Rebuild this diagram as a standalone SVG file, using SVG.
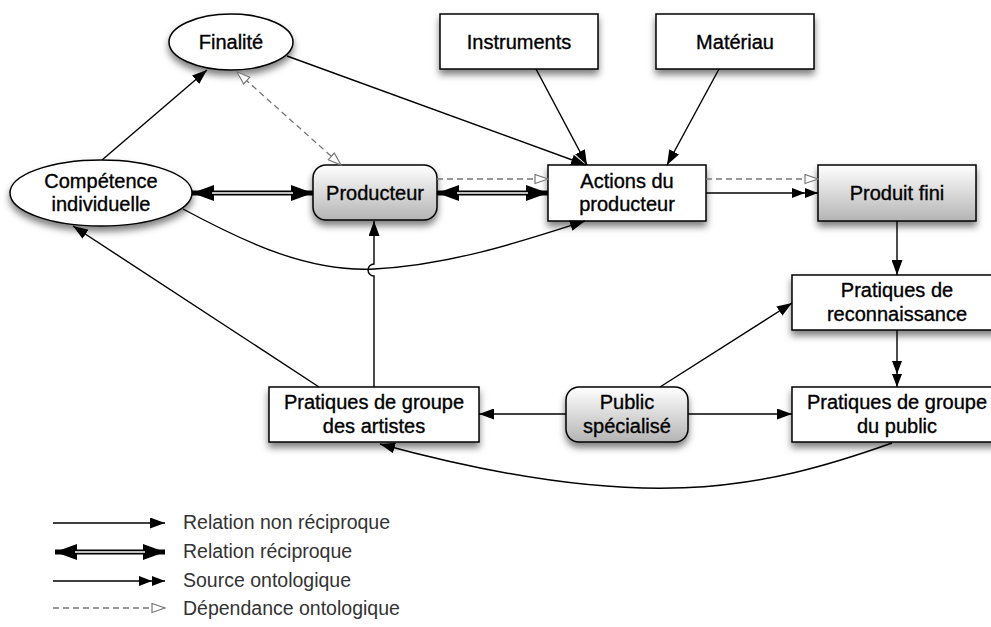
<svg xmlns="http://www.w3.org/2000/svg" width="991" height="627" viewBox="0 0 991 627">
<style>
.n{fill:#fff;stroke:#000;stroke-width:1.5}
.g{fill:url(#grad);stroke:#000;stroke-width:1.5}
.t{font-family:"Liberation Sans",Arial,sans-serif;font-size:20px;fill:#000;stroke:#000;stroke-width:0.35;text-anchor:middle}
.lt{font-family:"Liberation Sans",Arial,sans-serif;font-size:19.5px;fill:#333}
.c{fill:none;stroke:#000;stroke-width:1.4}
.d{fill:none;stroke:#777;stroke-width:1.3;stroke-dasharray:6 4}
.dbl{fill:none;stroke:#000;stroke-width:5}
.w{fill:none;stroke:#fff;stroke-width:1.6}
</style>
<defs>
<linearGradient id="grad" x1="0" y1="0" x2="0" y2="1">
<stop offset="0" stop-color="#ffffff"/>
<stop offset="1" stop-color="#b4b4b4"/>
</linearGradient>
<filter id="sh" x="-20%" y="-30%" width="140%" height="170%">
<feDropShadow dx="0" dy="5" stdDeviation="3.5" flood-color="#000" flood-opacity="0.5"/>
</filter>
<marker id="a" viewBox="0 0 15 11" refX="15" refY="5.5" markerWidth="15" markerHeight="11" markerUnits="userSpaceOnUse" orient="auto">
<path d="M0,0 L15,5.5 L0,11 z" fill="#000"/>
</marker>
<marker id="a2" viewBox="0 0 26 10" refX="26" refY="5" markerWidth="26" markerHeight="10" markerUnits="userSpaceOnUse" orient="auto">
<path d="M0,0 L13,5 L0,10 z M13,0 L26,5 L13,10 z" fill="#000"/>
</marker>
<marker id="h" viewBox="0 0 15 11" refX="14" refY="5.5" markerWidth="15" markerHeight="11" markerUnits="userSpaceOnUse" orient="auto-start-reverse">
<path d="M1,1 L14,5.5 L1,10 z" fill="#fff" stroke="#777" stroke-width="1.2"/>
</marker>
<marker id="r" viewBox="0 0 22 16" refX="22" refY="8" markerWidth="22" markerHeight="16" markerUnits="userSpaceOnUse" orient="auto-start-reverse">
<path d="M0,0 L22,8 L0,16 z" fill="#000"/>
</marker>
</defs>
<rect width="991" height="627" fill="#fff"/>

<g id="nodes">
<g id="finalite" filter="url(#sh)"><ellipse class="n" cx="231" cy="42" rx="62" ry="28"/></g>
<text class="t" x="231" y="49">Finalité</text>
<g id="competence" filter="url(#sh)"><ellipse class="n" cx="101" cy="193" rx="91" ry="33"/></g>
<text class="t" x="101" y="188">Compétence</text><text class="t" x="101" y="211">individuelle</text>
<g id="producteur" filter="url(#sh)"><rect class="g" x="313" y="165" width="124" height="55" rx="13"/></g>
<text class="t" x="375" y="200">Producteur</text>
<g id="instruments" filter="url(#sh)"><rect class="n" x="440" y="14" width="158" height="55"/></g>
<text class="t" x="519" y="49">Instruments</text>
<g id="materiau" filter="url(#sh)"><rect class="n" x="656" y="14" width="158" height="55"/></g>
<text class="t" x="735" y="49">Matériau</text>
<g id="actions" filter="url(#sh)"><rect class="n" x="548" y="165" width="158" height="56"/></g>
<text class="t" x="627" y="188">Actions du</text><text class="t" x="627" y="211">producteur</text>
<g id="produit" filter="url(#sh)"><rect class="g" x="818" y="165" width="158" height="56"/></g>
<text class="t" x="897" y="200">Produit fini</text>
<g id="reconnaissance" filter="url(#sh)"><rect class="n" x="792" y="275" width="210" height="55"/></g>
<text class="t" x="897" y="297">Pratiques de</text><text class="t" x="897" y="321">reconnaissance</text>
<g id="groupe-public" filter="url(#sh)"><rect class="n" x="792" y="387" width="210" height="55"/></g>
<text class="t" x="897" y="409">Pratiques de groupe</text><text class="t" x="897" y="433">du public</text>
<g id="groupe-artistes" filter="url(#sh)"><rect class="n" x="269" y="387" width="210" height="55"/></g>
<text class="t" x="374" y="409">Pratiques de groupe</text><text class="t" x="374" y="433">des artistes</text>
<g id="public" filter="url(#sh)"><rect class="g" x="566" y="387" width="122" height="55" rx="13"/></g>
<text class="t" x="627" y="409">Public</text><text class="t" x="627" y="433">spécialisé</text>
</g>

<g id="connectors">
<line class="c" x1="102" y1="160" x2="207" y2="70" marker-end="url(#a)"/>
<line class="c" x1="287" y1="56" x2="586" y2="165" marker-end="url(#a)"/>
<line class="c" x1="536" y1="69" x2="587" y2="165" marker-end="url(#a)"/>
<line class="c" x1="719" y1="69" x2="667" y2="165" marker-end="url(#a)"/>
<line class="d" x1="237" y1="72" x2="341" y2="165" marker-start="url(#h)" marker-end="url(#h)"/>
<line class="dbl" x1="192" y1="193" x2="313" y2="193" marker-start="url(#r)" marker-end="url(#r)"/>
<line class="w" x1="212" y1="193" x2="293" y2="193"/>
<line class="dbl" x1="437" y1="193" x2="548" y2="193" marker-start="url(#r)" marker-end="url(#r)"/>
<line class="w" x1="457" y1="193" x2="528" y2="193"/>
<line class="d" x1="437" y1="179" x2="548" y2="179" marker-end="url(#h)"/>
<line class="d" x1="706" y1="179" x2="818" y2="179" marker-end="url(#h)"/>
<line class="c" x1="706" y1="193" x2="818" y2="193" marker-end="url(#a2)"/>
<line class="c" x1="897" y1="221" x2="897" y2="275" marker-end="url(#a)"/>
<line class="c" x1="897" y1="330" x2="897" y2="387" marker-end="url(#a2)"/>
<line class="c" x1="660" y1="387" x2="792" y2="303" marker-end="url(#a)"/>
<line class="c" x1="566" y1="414" x2="479" y2="414" marker-end="url(#a)"/>
<line class="c" x1="688" y1="414" x2="792" y2="414" marker-end="url(#a)"/>
<path class="c" d="M892,443 C760,490 640,515 380,444" marker-end="url(#a)"/>
<line class="c" x1="319" y1="387" x2="73" y2="226" marker-end="url(#a)"/>
<path class="c" d="M374,387 L374,276 A6,6 0 0 1 374,264 L374,221" marker-end="url(#a)"/>
<path class="c" d="M183,209 C250,245 310,272 374,269 C450,265 520,242 585,221" marker-end="url(#a)"/>
</g>

<g id="legend">
<line class="c" x1="53" y1="523" x2="165" y2="523" marker-end="url(#a)"/>
<line class="dbl" x1="55" y1="552" x2="165" y2="552" marker-start="url(#r)" marker-end="url(#r)"/>
<line class="w" x1="75" y1="552" x2="145" y2="552"/>
<line class="c" x1="53" y1="581" x2="165" y2="581" marker-end="url(#a2)"/>
<line class="d" x1="53" y1="608" x2="165" y2="608" marker-end="url(#h)"/>
<text class="lt" x="183" y="529">Relation non réciproque</text>
<text class="lt" x="183" y="558">Relation réciproque</text>
<text class="lt" x="183" y="587">Source ontologique</text>
<text class="lt" x="183" y="615">Dépendance ontologique</text>
</g>
</svg>
